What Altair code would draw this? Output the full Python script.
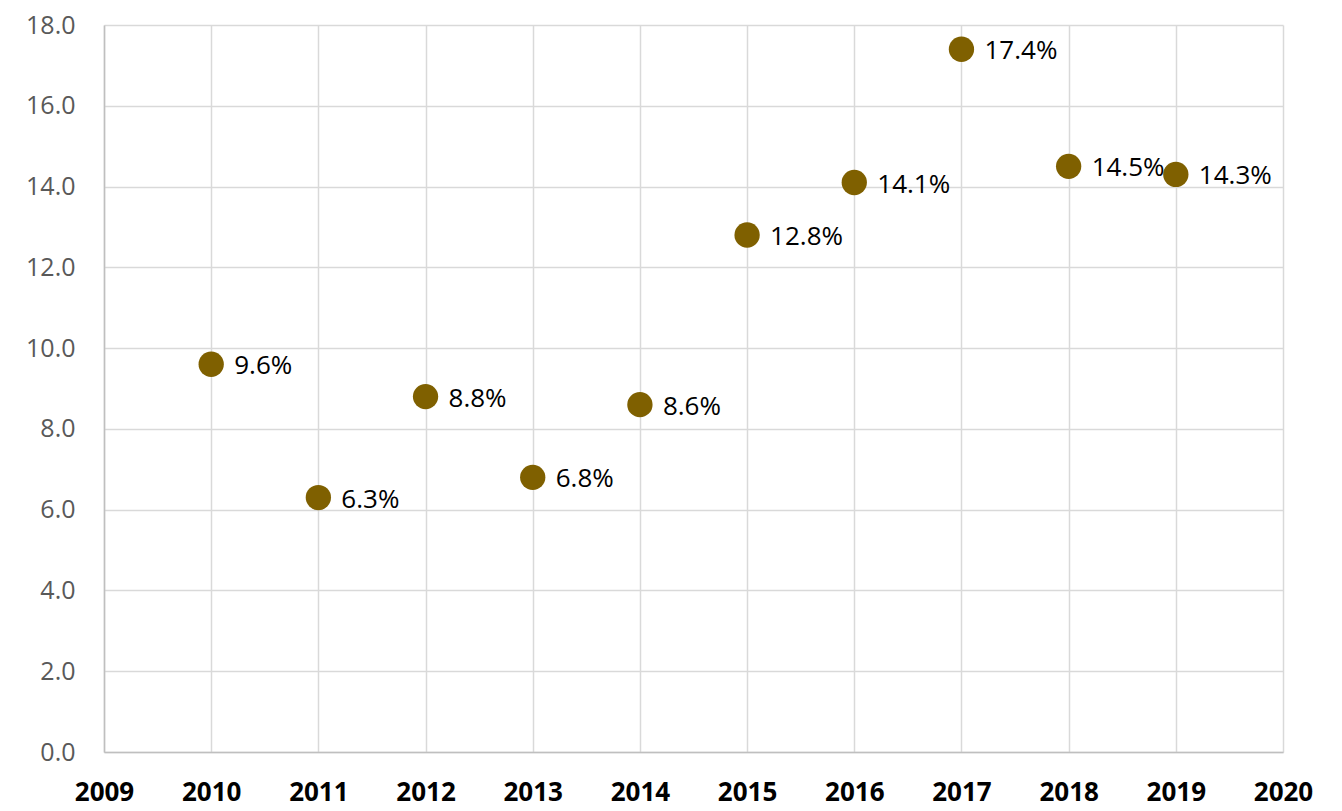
import altair as alt
import pandas as pd

years = [2010, 2011, 2012, 2013, 2014, 2015, 2016, 2017, 2018, 2019]
values = [9.6, 6.3, 8.8, 6.8, 8.6, 12.8, 14.1, 17.4, 14.5, 14.3]
labels = [f"{v:.1f}%" for v in values]

df = pd.DataFrame({"year": years, "value": values, "label": labels})

FONT = "Open Sans"

x = alt.X("year:Q", scale=alt.Scale(domain=[2009, 2020], nice=False, zero=False),
          axis=alt.Axis(values=list(range(2009, 2021)), format="d", title=None,
                        labelFont=FONT, labelFontSize=26, labelFontWeight="bold",
                        labelColor="#000000", labelPadding=27, ticks=False,
                        domainColor="#bfbfbf", domainWidth=1.5,
                        grid=True, gridColor="#d9d9d9", gridWidth=1.5,
                        labelFlush=False))
y = alt.Y("value:Q", scale=alt.Scale(domain=[0, 18], nice=False),
          axis=alt.Axis(values=list(range(0, 19, 2)), format=".1f", title=None,
                        labelFont=FONT, labelFontSize=25, labelColor="#595959",
                        labelPadding=29, ticks=False,
                        domainColor="#bfbfbf", domainWidth=1.5,
                        grid=True, gridColor="#d9d9d9", gridWidth=1.5,
                        labelFlush=False))

points = alt.Chart(df).mark_circle(size=640, color="#7F6000", opacity=1).encode(x=x, y=y)
text = alt.Chart(df).mark_text(align="left", baseline="middle", dx=23, dy=2,
                               font=FONT, fontSize=26, color="#000000").encode(
    x="year:Q", y="value:Q", text="label:N")

chart = (points + text).properties(
    width=1179, height=727,
    autosize=alt.AutoSizeParams(type="none"),
    padding={"left": 96, "top": 17, "right": 40, "bottom": 58},
).configure_view(stroke=None)

chart.save("out.html", embed_options={"renderer": "svg", "actions": False})
